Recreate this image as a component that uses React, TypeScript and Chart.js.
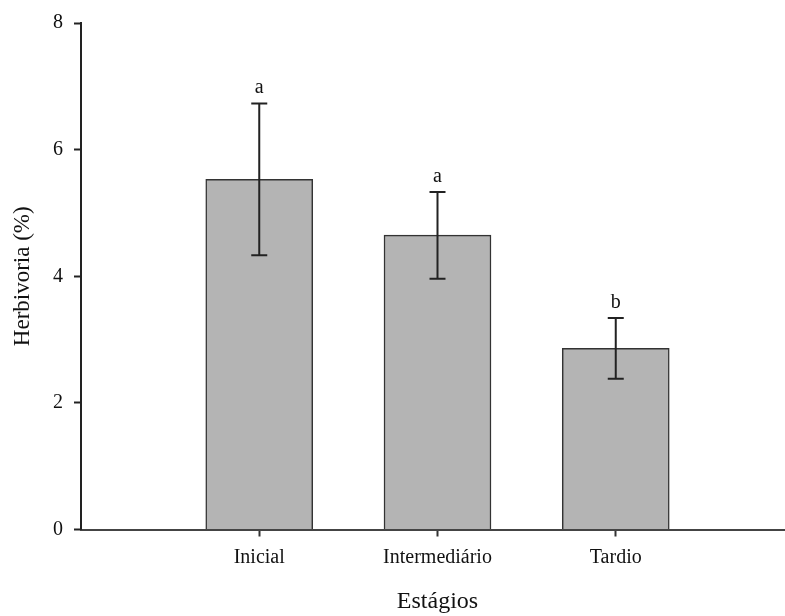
import React, { useEffect, useRef } from "react";
import { Chart, registerables } from "chart.js";

Chart.register(...registerables);

const categories = ["Inicial", "Intermediário", "Tardio"];
const means = [5.53, 4.65, 2.86];
const errUpper = [6.73, 5.33, 3.34];
const errLower = [4.33, 3.96, 2.38];
const letters = ["a", "a", "b"];
const yTicks = [0, 2, 4, 6, 8];

const FONT = "'Liberation Serif', 'Times New Roman', serif";

const errorBarPlugin = {
  id: "errorBars",
  afterDatasetsDraw(chart: any) {
    const ctx = chart.ctx;
    const xs = chart.scales.x;
    const ys = chart.scales.y;
    ctx.save();
    ctx.strokeStyle = "#222";
    ctx.lineWidth = 2;
    ctx.fillStyle = "#111";
    ctx.font = `20px ${FONT}`;
    ctx.textAlign = "center";
    ctx.textBaseline = "alphabetic";
    categories.forEach((_, i) => {
      const x = xs.getPixelForValue(i);
      const yt = ys.getPixelForValue(errUpper[i]);
      const yb = ys.getPixelForValue(errLower[i]);
      const cap = 8;
      ctx.beginPath();
      ctx.moveTo(x, yt);
      ctx.lineTo(x, yb);
      ctx.moveTo(x - cap, yt);
      ctx.lineTo(x + cap, yt);
      ctx.moveTo(x - cap, yb);
      ctx.lineTo(x + cap, yb);
      ctx.stroke();
      ctx.fillText(letters[i], x, yt - 10);
    });
    ctx.restore();
  },
};

export default function App() {
  const ref = useRef<HTMLCanvasElement | null>(null);
  useEffect(() => {
    if (!ref.current) return;
    const chart = new Chart(ref.current, {
      type: "bar",
      data: {
        datasets: [
          {
            data: means.map((v, i) => ({ x: i, y: v })),
            backgroundColor: "#b4b4b4",
            borderColor: "#333",
            borderWidth: 1.5,
            barThickness: 107,
          },
        ],
      },
      plugins: [errorBarPlugin],
      options: {
        animation: false,
        responsive: false,
        maintainAspectRatio: false,
        events: [],
        layout: { padding: { top: 19, left: 0, right: 0, bottom: 0 } },
        plugins: {
          legend: { display: false },
          tooltip: { enabled: false },
        },
        scales: {
          x: {
            type: "linear",
            min: -1,
            max: 3,
            offset: false,
            afterBuildTicks: (scale: any) => {
              scale.ticks = categories.map((_, i) => ({ value: i }));
            },
            afterFit: (scale: any) => {
              scale.height = 86.5;
            },
            ticks: {
              callback: (v: any) => categories[v as number] ?? "",
              color: "#111",
              font: { family: FONT, size: 20 },
              padding: 9,
              maxRotation: 0,
              autoSkip: false,
            },
            grid: {
              offset: false,
              drawOnChartArea: false,
              drawTicks: true,
              tickLength: 7,
              tickColor: "#333",
              tickWidth: 2,
            },
            border: { display: true, color: "#444", width: 2 },
            title: {
              display: true,
              text: "Estágios",
              color: "#111",
              font: { family: FONT, size: 24 },
              padding: { top: 0, bottom: 0 },
            },
          },
          y: {
            type: "linear",
            min: 0,
            max: 8,
            afterBuildTicks: (scale: any) => {
              scale.ticks = yTicks.map((v) => ({ value: v }));
            },
            afterFit: (scale: any) => {
              scale.width = 81;
            },
            ticks: {
              color: "#111",
              font: { family: FONT, size: 20 },
              padding: 11,
            },
            grid: {
              drawOnChartArea: false,
              drawTicks: true,
              tickLength: 7,
              tickColor: "#222",
              tickWidth: 2,
            },
            border: { display: true, color: "#222", width: 2 },
            title: {
              display: true,
              text: "Herbivoria (%)",
              color: "#111",
              font: { family: FONT, size: 23 },
              padding: { top: 9, bottom: 0 },
            },
          },
        },
      },
    });
    return () => chart.destroy();
  }, []);
  return (
    <div
      style={{
        position: "fixed",
        left: 0,
        top: 0,
        width: 785,
        height: 616,
        overflow: "hidden",
        background: "#fff",
      }}
    >
      <canvas ref={ref} width={794} height={616} style={{ display: "block", width: 794, height: 616 }} />
    </div>
  );
}
